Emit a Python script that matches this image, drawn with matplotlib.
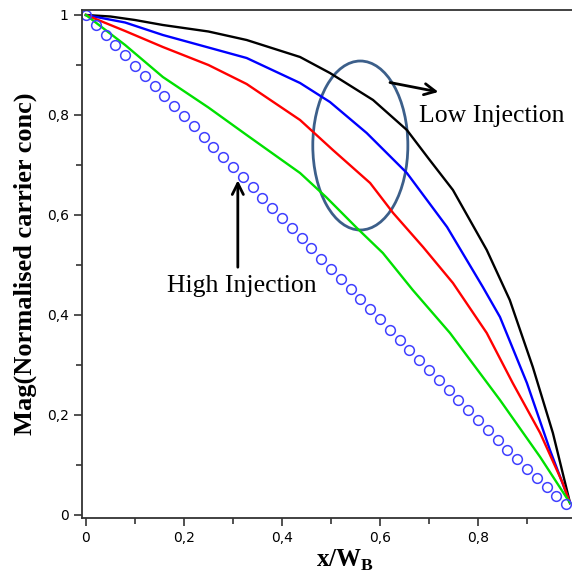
import matplotlib
matplotlib.use("Agg")
import matplotlib.pyplot as plt
from matplotlib.patches import Ellipse
from matplotlib.ticker import MultipleLocator, FuncFormatter

plt.rcParams["mathtext.fontset"] = "custom"
plt.rcParams["mathtext.rm"] = "Liberation Serif"
plt.rcParams["mathtext.bf"] = "Liberation Serif:bold"

# curves (x/W_B -> normalised carrier conc)
x_black = [0, 0.05, 0.1, 0.157, 0.25, 0.328, 0.437, 0.498, 0.586, 0.655,
           0.7, 0.749, 0.818, 0.865, 0.912, 0.953, 0.988]
black = [1, 0.997, 0.99, 0.98, 0.967, 0.95, 0.916, 0.884, 0.83, 0.77,
         0.712, 0.65, 0.53, 0.43, 0.296, 0.164, 0.024]

x_blue = [0, 0.08, 0.157, 0.25, 0.328, 0.437, 0.498, 0.573, 0.655, 0.737,
          0.81, 0.845, 0.9, 0.947, 0.988]
blue = [1, 0.985, 0.96, 0.935, 0.914, 0.864, 0.826, 0.764, 0.684, 0.576,
        0.456, 0.396, 0.264, 0.13, 0.024]

x_red = [0, 0.08, 0.157, 0.25, 0.328, 0.437, 0.504, 0.58, 0.627, 0.688,
         0.749, 0.818, 0.871, 0.927, 0.973, 0.988]
red = [1, 0.968, 0.936, 0.9, 0.862, 0.79, 0.73, 0.664, 0.604, 0.536,
       0.464, 0.364, 0.264, 0.164, 0.064, 0.024]

x_green = [0, 0.08, 0.157, 0.25, 0.328, 0.437, 0.49, 0.553, 0.606, 0.667,
           0.743, 0.845, 0.927, 0.988]
green = [1, 0.94, 0.876, 0.815, 0.76, 0.684, 0.636, 0.574, 0.524, 0.45,
         0.364, 0.23, 0.116, 0.024]

x_circ = [0.00, 0.02, 0.04, 0.06, 0.08, 0.10, 0.12, 0.14, 0.16, 0.18,
          0.20, 0.22, 0.24, 0.26, 0.28, 0.30, 0.32, 0.34, 0.36, 0.38,
          0.40, 0.42, 0.44, 0.46, 0.48, 0.50, 0.52, 0.54, 0.56, 0.58,
          0.60, 0.62, 0.64, 0.66, 0.68, 0.70, 0.72, 0.74, 0.76, 0.78,
          0.80, 0.82, 0.84, 0.86, 0.88, 0.90, 0.92, 0.94, 0.96, 0.98]
y_circ = [1.000, 0.980, 0.960, 0.940, 0.920, 0.899, 0.879, 0.859, 0.839, 0.818,
          0.798, 0.778, 0.757, 0.737, 0.717, 0.696, 0.676, 0.656, 0.635, 0.615,
          0.595, 0.574, 0.554, 0.534, 0.513, 0.493, 0.473, 0.452, 0.432, 0.412,
          0.392, 0.371, 0.351, 0.331, 0.311, 0.290, 0.270, 0.250, 0.230, 0.210,
          0.190, 0.170, 0.150, 0.131, 0.112, 0.093, 0.075, 0.057, 0.039, 0.022]

fig = plt.figure(figsize=(5.72, 5.81), dpi=100)
ax = fig.add_axes([82/572, 1 - 518/581, 1 - 82/572, (518 - 10)/581])

ax.plot(x_black, black, color="black", lw=1.7)
ax.plot(x_blue, blue, color="#0000ff", lw=1.7)
ax.plot(x_red, red, color="#ff0000", lw=1.7)
ax.plot(x_green, green, color="#00e000", lw=1.7)
ax.plot(x_circ, y_circ, ls="none", marker="o", ms=7, mfc="none",
        mec="#4040ff", mew=1.1)

ax.add_patch(Ellipse((0.56, 0.739), 0.194, 0.338, fill=False,
                     ec="#3c5f8a", lw=2))

serif = "Liberation Serif"
ax.annotate("", xy=(0.725, 0.845), xytext=(0.615, 0.866),
            arrowprops=dict(arrowstyle="->", color="black", lw=2,
                            mutation_scale=20))
ax.text(0.68, 0.798, "Low Injection", family=serif, fontsize=18.5,
        ha="left", va="center")
ax.annotate("", xy=(0.31, 0.675), xytext=(0.31, 0.49),
            arrowprops=dict(arrowstyle="->", color="black", lw=2,
                            mutation_scale=20))
ax.text(0.165, 0.458, "High Injection", family=serif, fontsize=18.5,
        ha="left", va="center")

ax.set_xlim(-0.008, 0.992)
ax.set_ylim(-0.006, 1.01)

comma = FuncFormatter(lambda v, p: ("%g" % round(v, 2)).replace(".", ","))
ax.xaxis.set_major_locator(MultipleLocator(0.2))
ax.xaxis.set_minor_locator(MultipleLocator(0.1))
ax.yaxis.set_major_locator(MultipleLocator(0.2))
ax.yaxis.set_minor_locator(MultipleLocator(0.1))
ax.xaxis.set_major_formatter(comma)
ax.yaxis.set_major_formatter(comma)
ax.tick_params(which="both", direction="out", colors="#333333", width=1.2)
ax.tick_params(which="major", length=6, labelsize=10, labelcolor="black")
ax.tick_params(which="minor", length=4)

for s in ["left", "bottom", "top"]:
    ax.spines[s].set_color("#333333")
    ax.spines[s].set_linewidth(1.3)
ax.spines["right"].set_visible(False)

ax.set_xlabel(r"x/W$_\mathbf{B}$", family=serif, fontsize=18,
              fontweight="bold")
ax.xaxis.set_label_coords(0.537, -0.058)
ax.set_ylabel("Mag(Normalised carrier conc)", family=serif, fontsize=19,
              fontweight="bold")
ax.yaxis.set_label_coords(-0.092, 0.5)

fig.savefig("out.png", dpi=100)
